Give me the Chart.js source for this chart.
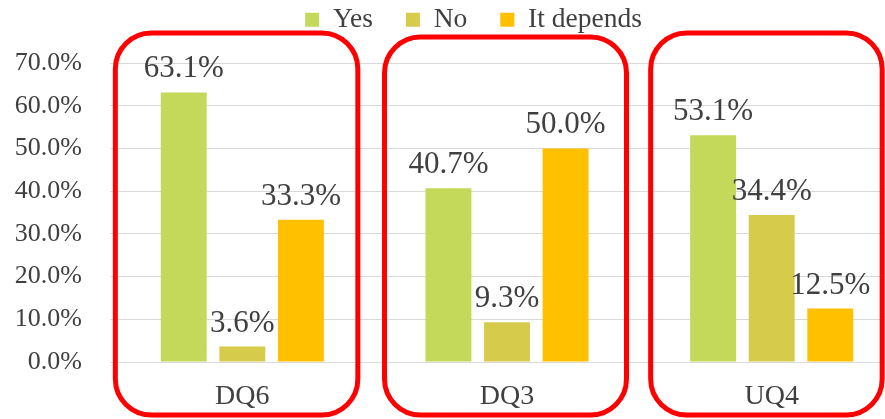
<!DOCTYPE html>
<html>
<head>
<meta charset="utf-8">
<script src="https://cdn.jsdelivr.net/npm/chart.js@4.4.1/dist/chart.umd.min.js"></script>
<style>
  html, body { margin: 0; padding: 0; overflow: hidden; background: #fff; }
  #wrap { position: relative; width: 904px; height: 419px; }
</style>
</head>
<body>
<div id="wrap"><canvas id="chart"></canvas></div>
<script>
// Respuestas por pregunta (porcentaje)
const questions = ['DQ6', 'DQ3', 'UQ4'];
const seriesNames = ['Yes', 'No', 'It depends'];
const yesValues = [63.1, 40.7, 53.1];
const noValues = [3.6, 9.3, 34.4];
const dependsValues = [33.3, 50.0, 12.5];
const yTicks = [0, 10, 20, 30, 40, 50, 60, 70];

const COLORS = ['#c4d85a', '#d7cb4b', '#ffc000'];
const TEXT = '#404040';
const SERIF = '"Liberation Serif", "Times New Roman", serif';

// Etiquetas de valor encima de cada barra
const barLabels = {
    id: 'barLabels',
    afterDatasetsDraw(chart) {
        const ctx = chart.ctx;
        ctx.save();
        ctx.font = '31px ' + SERIF;
        ctx.fillStyle = TEXT;
        ctx.textAlign = 'center';
        ctx.textBaseline = 'alphabetic';
        chart.data.datasets.forEach(function(ds, i) {
            chart.getDatasetMeta(i).data.forEach(function(bar, j) {
                ctx.fillText(ds.data[j].toFixed(1) + '%', bar.x, bar.y - 15);
            });
        });
        ctx.restore();
    }
};

// Marcos rojos redondeados alrededor de cada grupo
const groupFrames = {
    id: 'groupFrames',
    afterDraw(chart, args, opts) {
        const xScale = chart.scales.x;
        const ctx = chart.ctx;
        ctx.save();
        ctx.strokeStyle = opts.color;
        ctx.lineWidth = opts.width;
        opts.frames.forEach(function(f, i) {
            const c = xScale.getPixelForValue(i);
            ctx.beginPath();
            ctx.roundRect(c + f.left, f.top, f.right - f.left, opts.bottom - f.top, opts.radius);
            ctx.stroke();
        });
        ctx.restore();
    }
};

// Desplaza la leyenda una vez calculado el layout
const legendOffset = {
    id: 'legendOffset',
    afterLayout(chart, args, opts) {
        const lg = chart.legend;
        if (!lg) return;
        lg.left += opts.dx;
        lg.right += opts.dx;
        lg.top += opts.dy;
        lg.bottom += opts.dy;
    }
};

const series = [yesValues, noValues, dependsValues];

new Chart(document.getElementById('chart'), {
    type: 'bar',
    data: {
        labels: questions,
        datasets: series.map(function(values, i) {
            return {
                label: seriesNames[i],
                data: values,
                backgroundColor: COLORS[i],
                categoryPercentage: 0.664,
                barPercentage: 0.784
            };
        })
    },
    options: {
        responsive: true,
        maintainAspectRatio: false,
        animation: false,
        events: [],
        layout: {
            padding: { top: 0, left: 0, right: 0, bottom: 5 }
        },
        plugins: {
            legend: {
                position: 'top',
                maxHeight: 63,
                labels: {
                    boxWidth: 14,
                    boxHeight: 14,
                    padding: 33,
                    color: TEXT,
                    font: { family: SERIF, size: 27.5 }
                }
            },
            legendOffset: { dx: 21.5, dy: -27 },
            tooltip: { enabled: false },
            groupFrames: {
                color: '#ff0000',
                width: 5,
                radius: 36,
                bottom: 415,
                frames: [
                    { left: -127, right: 115.5, top: 33 },
                    { left: -122.5, right: 119.5, top: 37 },
                    { left: -121, right: 110.5, top: 33 }
                ]
            }
        },
        scales: {
            x: {
                afterFit: function(scale) { scale.height = 52; },
                grid: { display: false, drawTicks: false },
                border: { display: false },
                ticks: {
                    color: TEXT,
                    padding: 18,
                    font: { family: SERIF, size: 28 }
                }
            },
            y: {
                min: yTicks[0],
                max: yTicks[yTicks.length - 1],
                afterFit: function(scale) { scale.width = 110; },
                grid: { color: '#d9d9d9', lineWidth: 1, drawTicks: false },
                border: { display: false },
                ticks: {
                    stepSize: yTicks[1] - yTicks[0],
                    color: TEXT,
                    padding: 28,
                    font: { family: SERIF, size: 26 },
                    callback: function(value) { return value.toFixed(1) + '%'; }
                }
            }
        }
    },
    plugins: [barLabels, groupFrames, legendOffset]
});
</script>
</body>
</html>
